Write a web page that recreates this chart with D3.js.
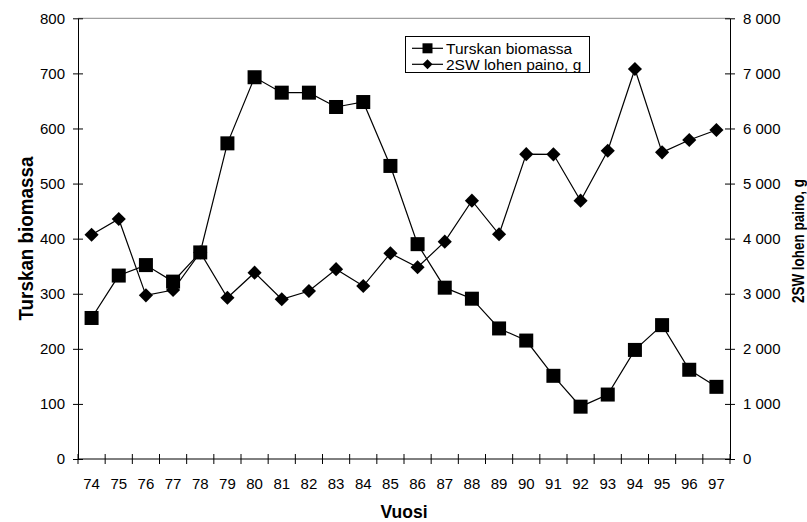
<!DOCTYPE html>
<html><head><meta charset="utf-8">
<script src="https://cdn.jsdelivr.net/npm/d3@7"></script>
<style>body{margin:0;background:#fff}svg{display:block}text{font-family:"Liberation Sans",Arial,sans-serif}</style>
</head><body><svg id="c" width="807" height="522"></svg>
<script>
const years = ["74","75","76","77","78","79","80","81","82","83","84","85","86","87","88","89","90","91","92","93","94","95","96","97"];
const biomassa = [256,333,352,322,375,573,693,665,665,639,648,532,390,311,291,237,215,151,95,117,198,243,162,131];
const paino = [4070,4357,2971,3068,3750,2928,3382,2899,3050,3446,3140,3734,3480,3945,4689,4079,5534,5531,4689,5596,7079,5567,5790,5972];
const leftTicks = [0,100,200,300,400,500,600,700,800];
const rightTicks = [0,1000,2000,3000,4000,5000,6000,7000,8000];
const seriesNames = ["Turskan biomassa","2SW lohen paino, g"];

const svg = d3.select("#c");
const L = 78, R = 730, T = 18.3, B = 459;
const x = d3.scaleBand().domain(years).range([L, R]);
const yL = d3.scaleLinear().domain([0,800]).range([B, T]);
const yR = d3.scaleLinear().domain([0,8000]).range([B, T]);
const fmt = d => d3.format(",")(d).replace(/,/g, " ");

// top border
svg.append("line").attr("x1",L).attr("x2",R).attr("y1",T).attr("y2",T).attr("stroke","#888").attr("stroke-width",1);

// left axis
const gl = svg.append("g").attr("transform",`translate(${L},0)`)
  .call(d3.axisLeft(yL).tickValues(leftTicks).tickSizeInner(5).tickSizeOuter(0).tickPadding(8));
gl.selectAll(".tick line").attr("x1",5).attr("x2",-5);
// right axis
const gr = svg.append("g").attr("transform",`translate(${R},0)`)
  .call(d3.axisRight(yR).tickValues(rightTicks).tickFormat(fmt).tickSizeInner(5).tickSizeOuter(0).tickPadding(8));
gr.selectAll(".tick line").attr("x1",-5).attr("x2",5);
// bottom axis: ticks at band boundaries
const gb = svg.append("g").attr("transform",`translate(0,${B})`)
  .call(d3.axisBottom(x).tickSize(0).tickPadding(19));
gb.select(".domain").remove();
svg.append("line").attr("x1",L).attr("x2",R).attr("y1",B).attr("y2",B).attr("stroke","#000");
const bounds = years.map(d => x(d)).concat([R]);
svg.append("g").selectAll("line").data(bounds).join("line")
  .attr("x1",d=>d).attr("x2",d=>d).attr("y1",B-5).attr("y2",B+5).attr("stroke","#000");

svg.selectAll(".domain").attr("stroke","#000");
svg.selectAll(".tick line").attr("stroke","#000");
svg.selectAll(".tick text").attr("font-size",15).attr("fill","#000");

const cx = d => x(d) + x.bandwidth()/2;

// paino line
svg.append("path").datum(paino).attr("fill","none").attr("stroke","#000").attr("stroke-width",1.2)
  .attr("d", d3.line().x((d,i)=>cx(years[i])).y(d=>yR(d)));
// biomassa line
svg.append("path").datum(biomassa).attr("fill","none").attr("stroke","#000").attr("stroke-width",1.2)
  .attr("d", d3.line().x((d,i)=>cx(years[i])).y(d=>yL(d)));

const diamond = d3.symbol().type(d3.symbolSquare).size(100);
svg.append("g").selectAll("path").data(paino).join("path")
  .attr("d", diamond)
  .attr("transform",(d,i)=>`translate(${cx(years[i])},${yR(d)}) rotate(45)`)
  .attr("fill","#000");
svg.append("g").selectAll("rect").data(biomassa).join("rect")
  .attr("x",(d,i)=>cx(years[i])-7).attr("y",d=>yL(d)-7).attr("width",14).attr("height",14)
  .attr("fill","#000");

// axis titles
svg.append("text").attr("x",404).attr("y",518).attr("text-anchor","middle")
  .attr("font-size",17.5).attr("font-weight","bold").text("Vuosi");
svg.append("text").attr("transform","translate(32.5,238.5) rotate(-90)").attr("text-anchor","middle")
  .attr("font-size",21).attr("font-weight","bold")
  .attr("textLength",164).attr("lengthAdjust","spacingAndGlyphs").text("Turskan biomassa");
svg.append("text").attr("transform","translate(803.5,241) rotate(-90)").attr("text-anchor","middle")
  .attr("font-size",16).attr("font-weight","bold")
  .attr("textLength",124).attr("lengthAdjust","spacingAndGlyphs").text("2SW lohen paino, g");

// legend
const lg = svg.append("g");
lg.append("rect").attr("x",405.5).attr("y",36.5).attr("width",184).attr("height",36)
  .attr("fill","#fff").attr("stroke","#000");
const rows = [48.3, 64.3];
rows.forEach((ry,i)=>{
  lg.append("line").attr("x1",412).attr("x2",443).attr("y1",ry).attr("y2",ry).attr("stroke","#000").attr("stroke-width",1.2);
  if(i===0) lg.append("rect").attr("x",427.5-5).attr("y",ry-5).attr("width",10).attr("height",10).attr("fill","#000");
  else lg.append("path").attr("d",d3.symbol().type(d3.symbolSquare).size(50)).attr("transform",`translate(427.5,${ry}) rotate(45)`).attr("fill","#000");
  lg.append("text").attr("x",446).attr("y",ry).attr("dy","0.35em").attr("font-size",15.5).text(seriesNames[i]);
});
</script></body></html>
